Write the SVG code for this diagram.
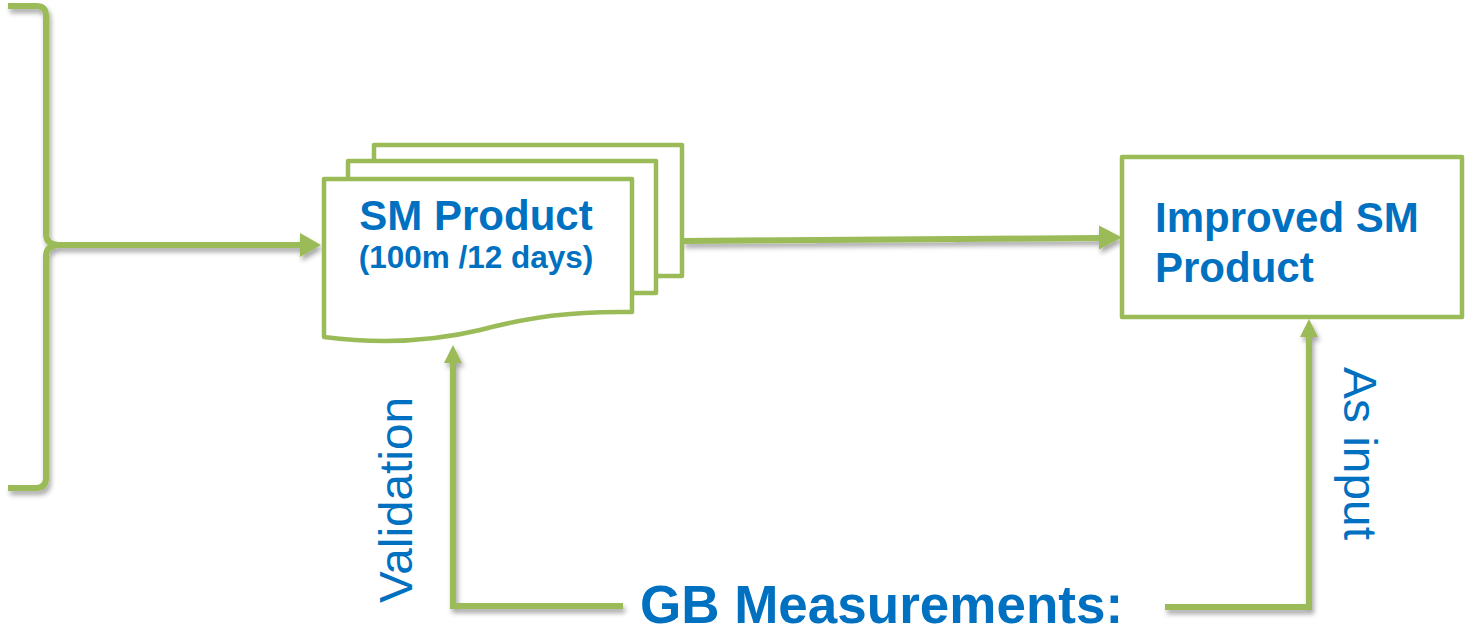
<svg xmlns="http://www.w3.org/2000/svg" width="1465" height="629" viewBox="0 0 1465 629">
  <style>
    .edge { fill: none; stroke: #9BBB59; stroke-width: 6; }
    .head { fill: #9BBB59; }
    .box { fill: #FFFFFF; stroke: #9BBB59; stroke-width: 4.5; stroke-linejoin: round; }
    .title { font-family: "Liberation Sans", Arial, sans-serif; font-weight: bold; fill: #0070C0; }
    .side { font-family: "Liberation Sans", Arial, sans-serif; fill: #0070C0; font-size: 47px; }
  </style>
  <defs>
    <filter id="shadow" x="-10%" y="-10%" width="130%" height="140%">
      <feDropShadow dx="2" dy="4" stdDeviation="2.5" flood-color="#000000" flood-opacity="0.35"/>
    </filter>
  </defs>

  <!-- Connectors -->
  <g id="connectors" filter="url(#shadow)">
    <!-- curly bracket feeding the SM product -->
    <path class="edge" stroke-width="7" d="M8,6 L36,6 Q46,6 46,16 L46,234 Q46,244 58,245 Q46,246 46,256 L46,478 Q46,488 36,488 L8,488"/>
    <line class="edge" x1="56" y1="245" x2="303" y2="245"/>
    <polygon class="head" points="321,245 300,233 300,257"/>
    <!-- SM product to improved product -->
    <line class="edge" x1="683" y1="241" x2="1102" y2="238"/>
    <polygon class="head" points="1122,237.5 1099,225.5 1099,249.5"/>
    <!-- validation loop -->
    <polyline class="edge" points="623,606 453,606 453,360"/>
    <polygon class="head" points="453,345 444,363 462,363"/>
    <!-- as-input loop -->
    <polyline class="edge" points="1165,607 1309,607 1309,333"/>
    <polygon class="head" points="1309,319 1300,337 1318,337"/>
  </g>

  <!-- Stacked document: SM Product -->
  <g id="sm-product">
    <rect class="box" x="374" y="145" width="308" height="131"/>
    <rect class="box" x="348" y="161" width="308" height="132"/>
    <path class="box" d="M324,179 L632,179 L632,312 C570,311 530,317 480,330 C430,342 380,344 324,337 Z"/>
    <text class="title" x="476" y="230" font-size="42" text-anchor="middle">SM Product</text>
    <text class="title" x="476" y="268" font-size="31.5" text-anchor="middle">(100m /12 days)</text>
  </g>

  <!-- Improved SM Product -->
  <g id="improved-product">
    <rect class="box" x="1122" y="157" width="340" height="160"/>
    <text class="title" x="1155" y="232" font-size="42">Improved SM</text>
    <text class="title" x="1155" y="282" font-size="42">Product</text>
  </g>

  <!-- Loop labels -->
  <g id="label-validation">
    <text class="side" transform="translate(412,603) rotate(-90)" textLength="206" lengthAdjust="spacingAndGlyphs">Validation</text>
  </g>
  <g id="label-as-input">
    <text class="side" transform="translate(1344,367) rotate(90)" textLength="173" lengthAdjust="spacingAndGlyphs">As input</text>
  </g>

  <!-- GB Measurements -->
  <g id="gb-measurements">
    <text class="title" x="640" y="623" font-size="53">GB Measurements:</text>
  </g>
</svg>
